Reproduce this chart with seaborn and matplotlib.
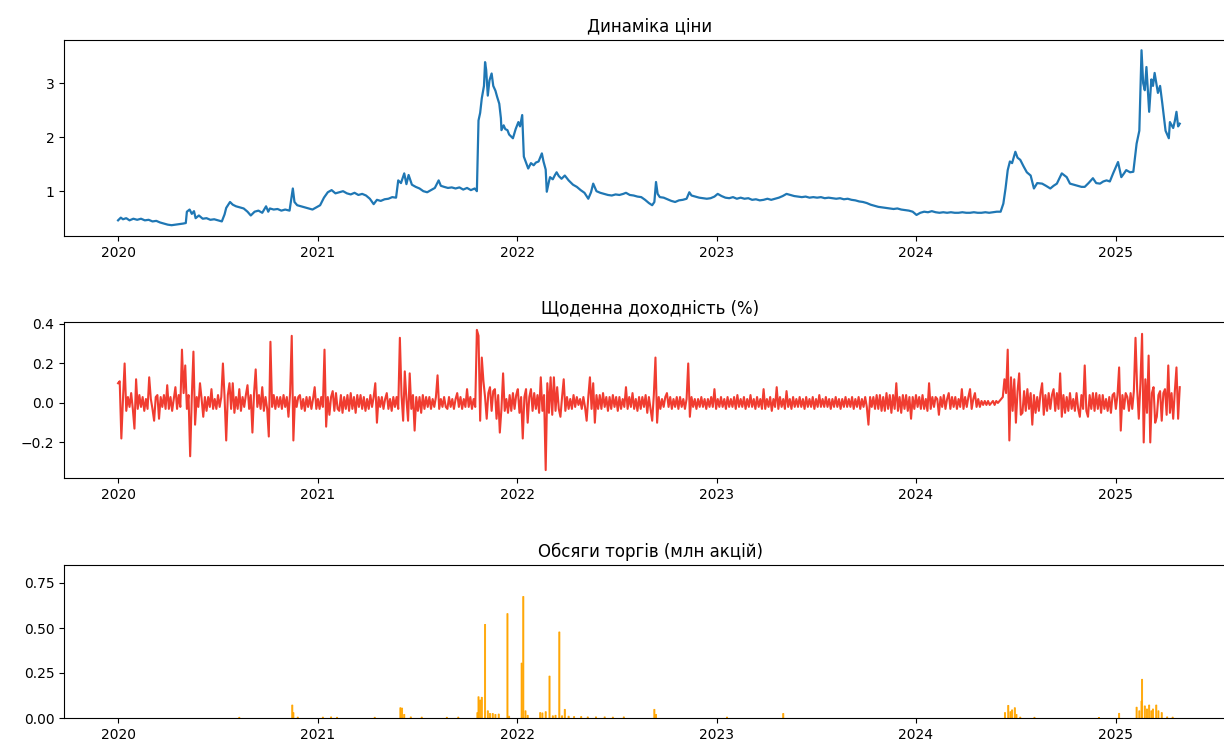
import matplotlib
matplotlib.use("Agg")
import matplotlib.pyplot as plt
import matplotlib.dates as mdates
import numpy as np
import pandas as pd
import seaborn as sns

# ---------------- data ----------------
price_dates = [
    "2020-01-01", "2020-01-06", "2020-01-10", "2020-01-16", "2020-01-22", "2020-01-29",
    "2020-02-05", "2020-02-12", "2020-02-19", "2020-02-26", "2020-03-04", "2020-03-11",
    "2020-03-18", "2020-03-25", "2020-04-01", "2020-04-08", "2020-04-15", "2020-04-22",
    "2020-04-29", "2020-05-04", "2020-05-06", "2020-05-11", "2020-05-15", "2020-05-19",
    "2020-05-22", "2020-05-28", "2020-06-04", "2020-06-11", "2020-06-18", "2020-06-25",
    "2020-07-02", "2020-07-09", "2020-07-14", "2020-07-17", "2020-07-24", "2020-07-29",
    "2020-08-04", "2020-08-11", "2020-08-18", "2020-08-25", "2020-08-31", "2020-09-07",
    "2020-09-14", "2020-09-21", "2020-09-28", "2020-10-02", "2020-10-05", "2020-10-12",
    "2020-10-19", "2020-10-26", "2020-11-02", "2020-11-10", "2020-11-16", "2020-11-19",
    "2020-11-24", "2020-12-01", "2020-12-08", "2020-12-15", "2020-12-22", "2020-12-29",
    "2021-01-05", "2021-01-12", "2021-01-19", "2021-01-26", "2021-02-02", "2021-02-09",
    "2021-02-16", "2021-02-23", "2021-03-02", "2021-03-09", "2021-03-16", "2021-03-23",
    "2021-03-30", "2021-04-06", "2021-04-13", "2021-04-19", "2021-04-26", "2021-05-03",
    "2021-05-10", "2021-05-17", "2021-05-24", "2021-05-28", "2021-06-02", "2021-06-08",
    "2021-06-12", "2021-06-16", "2021-06-22", "2021-06-29", "2021-07-06", "2021-07-13",
    "2021-07-20", "2021-07-27", "2021-08-03", "2021-08-10", "2021-08-14", "2021-08-20",
    "2021-08-27", "2021-09-03", "2021-09-10", "2021-09-17", "2021-09-24", "2021-10-01",
    "2021-10-08", "2021-10-15", "2021-10-19", "2021-10-22", "2021-10-25", "2021-10-28",
    "2021-11-01", "2021-11-03", "2021-11-05", "2021-11-08", "2021-11-11", "2021-11-15",
    "2021-11-18", "2021-11-22", "2021-11-25", "2021-11-29", "2021-12-02", "2021-12-03",
    "2021-12-07", "2021-12-10", "2021-12-14", "2021-12-17", "2021-12-24", "2021-12-29",
    "2022-01-03", "2022-01-06", "2022-01-10", "2022-01-13", "2022-01-18", "2022-01-21",
    "2022-01-26", "2022-01-31", "2022-02-04", "2022-02-09", "2022-02-15", "2022-02-18",
    "2022-02-22", "2022-02-24", "2022-02-28", "2022-03-02", "2022-03-07", "2022-03-11",
    "2022-03-14", "2022-03-18", "2022-03-23", "2022-03-29", "2022-04-05", "2022-04-13",
    "2022-04-20", "2022-04-27", "2022-05-04", "2022-05-11", "2022-05-16", "2022-05-20",
    "2022-05-26", "2022-06-02", "2022-06-09", "2022-06-16", "2022-06-23", "2022-06-30",
    "2022-07-07", "2022-07-14", "2022-07-19", "2022-07-26", "2022-08-02", "2022-08-09",
    "2022-08-16", "2022-08-23", "2022-08-30", "2022-09-05", "2022-09-09", "2022-09-12",
    "2022-09-15", "2022-09-19", "2022-09-26", "2022-10-03", "2022-10-10", "2022-10-17",
    "2022-10-24", "2022-10-31", "2022-11-07", "2022-11-12", "2022-11-16", "2022-11-23",
    "2022-11-30", "2022-12-07", "2022-12-14", "2022-12-21", "2022-12-28", "2023-01-03",
    "2023-01-10", "2023-01-17", "2023-01-24", "2023-01-31", "2023-02-07", "2023-02-14",
    "2023-02-21", "2023-02-28", "2023-03-07", "2023-03-14", "2023-03-21", "2023-03-28",
    "2023-04-04", "2023-04-11", "2023-04-18", "2023-04-25", "2023-05-02", "2023-05-09",
    "2023-05-16", "2023-05-23", "2023-05-30", "2023-06-06", "2023-06-13", "2023-06-20",
    "2023-06-27", "2023-07-04", "2023-07-11", "2023-07-18", "2023-07-25", "2023-08-01",
    "2023-08-08", "2023-08-15", "2023-08-22", "2023-08-29", "2023-09-05", "2023-09-12",
    "2023-09-19", "2023-09-26", "2023-10-03", "2023-10-10", "2023-10-17", "2023-10-24",
    "2023-10-31", "2023-11-07", "2023-11-14", "2023-11-21", "2023-11-28", "2023-12-05",
    "2023-12-12", "2023-12-19", "2023-12-26", "2024-01-02", "2024-01-09", "2024-01-16",
    "2024-01-23", "2024-01-30", "2024-02-06", "2024-02-13", "2024-02-20", "2024-02-27",
    "2024-03-05", "2024-03-12", "2024-03-19", "2024-03-26", "2024-04-02", "2024-04-09",
    "2024-04-16", "2024-04-23", "2024-04-30", "2024-05-07", "2024-05-14", "2024-05-21",
    "2024-05-28", "2024-06-04", "2024-06-09", "2024-06-13", "2024-06-17", "2024-06-21",
    "2024-06-25", "2024-07-01", "2024-07-05", "2024-07-10", "2024-07-16", "2024-07-22",
    "2024-07-29", "2024-08-04", "2024-08-10", "2024-08-19", "2024-08-26", "2024-09-03",
    "2024-09-09", "2024-09-15", "2024-09-24", "2024-10-03", "2024-10-09", "2024-10-16",
    "2024-10-23", "2024-10-30", "2024-11-05", "2024-11-12", "2024-11-20", "2024-11-26",
    "2024-12-03", "2024-12-09", "2024-12-15", "2024-12-21", "2024-12-27", "2025-01-05",
    "2025-01-11", "2025-01-16", "2025-01-20", "2025-01-27", "2025-02-02", "2025-02-08",
    "2025-02-13", "2025-02-17", "2025-02-20", "2025-02-23", "2025-02-26", "2025-03-03",
    "2025-03-07", "2025-03-10", "2025-03-13", "2025-03-19", "2025-03-23", "2025-03-27",
    "2025-04-02", "2025-04-05", "2025-04-08", "2025-04-10", "2025-04-16", "2025-04-19",
    "2025-04-22", "2025-04-25", "2025-04-28",
]
price_values = [
    0.46, 0.51, 0.48, 0.50, 0.46, 0.49,
    0.47, 0.49, 0.46, 0.47, 0.44, 0.45,
    0.42, 0.40, 0.38, 0.37, 0.38, 0.39,
    0.40, 0.41, 0.62, 0.66, 0.58, 0.63,
    0.50, 0.55, 0.49, 0.50, 0.47, 0.48,
    0.46, 0.44, 0.57, 0.69, 0.80, 0.75,
    0.72, 0.70, 0.68, 0.62, 0.55, 0.62,
    0.64, 0.60, 0.72, 0.62, 0.68, 0.66,
    0.67, 0.64, 0.66, 0.64, 1.05, 0.80,
    0.74, 0.72, 0.70, 0.68, 0.66, 0.70,
    0.74, 0.88, 0.98, 1.02, 0.96, 0.98,
    1.00, 0.96, 0.94, 0.97, 0.93, 0.95,
    0.92, 0.86, 0.76, 0.84, 0.82, 0.85,
    0.86, 0.89, 0.88, 1.20, 1.15, 1.33,
    1.13, 1.30, 1.12, 1.08, 1.05, 1.00,
    0.98, 1.02, 1.06, 1.20, 1.10, 1.08,
    1.06, 1.07, 1.05, 1.07, 1.03, 1.06,
    1.02, 1.05, 1.00, 2.31, 2.45, 2.72,
    2.95, 3.39, 3.25, 2.77, 3.05, 3.18,
    2.95, 2.86, 2.75, 2.62, 2.35, 2.13,
    2.22, 2.15, 2.13, 2.05, 1.98, 2.15,
    2.28, 2.20, 2.41, 1.64, 1.50, 1.42,
    1.52, 1.48, 1.53, 1.55, 1.70, 1.55,
    1.40, 0.99, 1.18, 1.26, 1.22, 1.30,
    1.35, 1.28, 1.23, 1.29, 1.20, 1.12,
    1.08, 1.02, 0.97, 0.86, 0.98, 1.14,
    1.00, 0.97, 0.95, 0.93, 0.92, 0.94,
    0.93, 0.95, 0.97, 0.93, 0.92, 0.90,
    0.89, 0.84, 0.78, 0.74, 0.80, 1.17,
    0.95, 0.89, 0.88, 0.85, 0.82, 0.80,
    0.83, 0.84, 0.86, 0.98, 0.92, 0.90,
    0.88, 0.87, 0.86, 0.87, 0.90, 0.95,
    0.91, 0.88, 0.87, 0.89, 0.86, 0.88,
    0.86, 0.87, 0.84, 0.85, 0.83, 0.84,
    0.86, 0.84, 0.86, 0.88, 0.91, 0.95,
    0.93, 0.91, 0.90, 0.89, 0.90, 0.88,
    0.89, 0.88, 0.89, 0.87, 0.88, 0.87,
    0.86, 0.87, 0.85, 0.86, 0.84, 0.83,
    0.81, 0.80, 0.78, 0.75, 0.73, 0.71,
    0.70, 0.69, 0.68, 0.67, 0.68, 0.66,
    0.65, 0.64, 0.62, 0.56, 0.60, 0.62,
    0.61, 0.63, 0.61, 0.60, 0.61, 0.60,
    0.61, 0.60, 0.60, 0.61, 0.60, 0.60,
    0.61, 0.60, 0.60, 0.61, 0.60, 0.61,
    0.62, 0.62, 0.77, 1.05, 1.39, 1.55,
    1.52, 1.73, 1.62, 1.58, 1.46, 1.35,
    1.29, 1.05, 1.15, 1.14, 1.10, 1.05,
    1.10, 1.14, 1.33, 1.26, 1.14, 1.12,
    1.10, 1.08, 1.08, 1.15, 1.24, 1.15,
    1.14, 1.18, 1.20, 1.18, 1.33, 1.54,
    1.26, 1.33, 1.39, 1.35, 1.36, 1.88,
    2.12, 3.61, 3.00, 2.87, 3.30, 2.47,
    3.07, 2.95, 3.19, 2.82, 2.95, 2.63,
    2.12, 2.05, 1.98, 2.28, 2.17, 2.30,
    2.47, 2.20, 2.25,
]

# daily return readings, one value every 3 days starting 2020-01-01
return_start = "2020-01-01"
return_values = [
    0.10, 0.11, -0.18, 0.02, 0.20, -0.04, 0.03, -0.02, 0.05, -0.03,
    -0.13, 0.12, -0.03, 0.04, -0.02, 0.03, -0.04, 0.02, -0.03, 0.13,
    0.02, -0.03, -0.09, 0.03, 0.04, -0.08, 0.03, -0.02, 0.04, -0.03,
    0.09, -0.03, 0.03, -0.04, 0.02, 0.08, -0.03, 0.04, -0.02, 0.27,
    0.05, 0.19, -0.03, 0.04, -0.27, 0.03, 0.26, -0.11, 0.03, -0.02,
    0.10, 0.02, -0.07, 0.03, -0.04, 0.03, -0.02, 0.07, -0.03, 0.02,
    -0.03, 0.04, -0.02, 0.03, 0.20, 0.03, -0.19, 0.04, 0.10, -0.03,
    0.10, -0.05, 0.03, -0.03, 0.07, -0.04, 0.03, -0.02, 0.04, 0.09,
    -0.03, 0.04, -0.15, 0.05, 0.17, -0.02, 0.04, -0.03, 0.08, -0.04,
    0.03, -0.03, -0.17, 0.31, -0.02, 0.04, -0.03, 0.03, -0.02, 0.03,
    -0.03, 0.04, -0.02, 0.03, -0.07, 0.05, 0.34, -0.19, 0.03, -0.02,
    0.03, 0.04, -0.03, 0.02, -0.04, 0.03, -0.02, 0.03, -0.03, 0.02,
    0.08, -0.03, 0.02, -0.03, 0.03, -0.02, 0.27, -0.12, 0.03, -0.06,
    0.03, 0.06, -0.04, 0.05, -0.03, -0.04, 0.04, -0.05, 0.03, -0.03,
    0.04, -0.04, 0.05, -0.03, 0.03, -0.05, 0.04, -0.02, 0.04, -0.03,
    0.03, -0.04, 0.02, -0.03, 0.04, -0.02, 0.03, 0.10, -0.10, 0.03,
    -0.02, 0.03, -0.03, 0.02, 0.05, -0.03, 0.02, -0.04, 0.03, -0.02,
    0.03, -0.03, 0.33, 0.04, -0.09, 0.16, 0.02, -0.09, 0.15, -0.03,
    0.04, -0.14, 0.03, -0.04, 0.03, -0.05, 0.04, -0.03, 0.03, -0.02,
    0.03, -0.03, 0.02, -0.02, 0.03, 0.14, -0.03, 0.02, -0.02, 0.03,
    -0.02, -0.03, 0.03, -0.02, 0.02, -0.03, 0.02, 0.05, -0.02, 0.03,
    -0.03, 0.02, -0.02, 0.07, -0.02, 0.03, -0.03, 0.02, -0.02, 0.37,
    0.34, -0.09, 0.23, 0.11, 0.03, -0.08, 0.05, 0.08, -0.04, 0.06,
    0.07, -0.08, 0.04, -0.15, -0.03, 0.15, -0.04, 0.02, -0.05, 0.04,
    -0.04, 0.05, -0.03, 0.04, 0.07, -0.05, 0.03, -0.18, 0.03, 0.07,
    -0.10, 0.03, 0.07, -0.04, 0.05, -0.03, 0.04, -0.05, 0.13, -0.04,
    0.04, -0.34, 0.10, -0.05, 0.13, -0.06, 0.13, -0.04, 0.08, -0.03,
    -0.07, 0.03, 0.12, -0.04, 0.03, -0.03, 0.02, -0.03, 0.04, -0.02,
    0.03, -0.01, 0.02, -0.03, 0.03, -0.02, -0.09, 0.03, 0.13, -0.03,
    0.10, -0.10, 0.04, -0.03, 0.04, -0.03, 0.05, -0.02, 0.03, -0.04,
    0.03, -0.03, 0.04, -0.02, 0.03, -0.04, 0.03, -0.03, 0.02, -0.02,
    0.08, -0.03, 0.03, -0.02, 0.05, -0.03, 0.02, -0.04, 0.03, -0.03,
    0.03, -0.02, 0.04, -0.05, 0.03, -0.03, -0.09, 0.04, 0.23, -0.10,
    0.03, -0.03, 0.02, -0.02, 0.03, 0.05, -0.02, 0.03, -0.03, 0.02,
    -0.02, 0.03, -0.03, 0.03, -0.02, 0.02, -0.03, 0.02, 0.20, -0.07,
    0.03, -0.02, 0.02, -0.03, 0.02, -0.02, 0.03, -0.02, 0.02, -0.03,
    0.02, -0.02, 0.03, -0.02, 0.07, -0.03, 0.02, -0.02, 0.03, -0.02,
    0.02, -0.03, 0.03, -0.02, 0.02, -0.02, 0.03, -0.03, 0.04, -0.02,
    0.02, -0.02, 0.03, -0.03, 0.02, -0.02, 0.04, -0.02, 0.02, -0.03,
    0.03, -0.02, 0.02, -0.03, 0.07, -0.03, 0.02, -0.02, 0.03, -0.04,
    0.02, -0.02, 0.08, -0.03, 0.03, -0.02, 0.02, -0.03, 0.06, -0.02,
    0.02, -0.03, 0.03, -0.02, 0.02, -0.02, 0.03, -0.02, 0.02, -0.03,
    0.03, -0.02, 0.02, -0.02, 0.03, -0.03, 0.02, -0.02, 0.04, -0.02,
    0.02, -0.02, 0.03, -0.02, 0.02, -0.03, 0.02, -0.02, 0.03, -0.02,
    0.02, -0.03, 0.02, -0.02, 0.03, -0.02, 0.02, -0.02, 0.03, -0.03,
    0.02, -0.02, 0.03, -0.03, 0.02, -0.02, 0.03, -0.02, -0.11, 0.03,
    -0.02, 0.03, -0.03, 0.04, -0.03, 0.04, -0.04, 0.03, -0.04, 0.05,
    -0.03, 0.04, -0.05, 0.04, -0.03, 0.10, -0.04, 0.03, -0.05, 0.04,
    -0.03, 0.04, -0.04, 0.03, -0.08, 0.03, -0.03, 0.04, -0.02, 0.03,
    -0.03, 0.04, -0.03, 0.02, -0.04, 0.10, -0.03, 0.03, -0.02, 0.03,
    0.02, -0.06, 0.03, -0.02, 0.04, -0.03, 0.02, 0.05, -0.03, 0.03,
    -0.02, 0.03, -0.03, 0.02, -0.02, 0.07, -0.03, 0.03, -0.02, 0.03,
    0.07, -0.03, 0.02, 0.05, -0.02, 0.02, -0.02, 0.01, -0.01, 0.01,
    -0.01, 0.01, -0.01, 0.00, 0.01, -0.01, 0.01, 0.00, 0.01, 0.02,
    0.03, 0.12, 0.05, 0.27, -0.19, 0.13, -0.04, 0.12, -0.10, 0.06,
    0.15, -0.06, -0.05, 0.06, -0.04, 0.07, -0.03, 0.05, -0.11, 0.04,
    -0.05, 0.03, -0.04, 0.05, 0.10, -0.06, 0.04, -0.04, 0.05, -0.03,
    0.04, 0.07, -0.04, 0.05, -0.03, 0.15, -0.07, 0.04, -0.05, 0.03,
    -0.04, 0.05, -0.03, 0.02, -0.04, 0.05, -0.03, -0.07, 0.04, -0.03,
    0.19, -0.04, -0.07, 0.04, -0.03, 0.05, -0.04, 0.05, -0.03, 0.04,
    -0.05, 0.04, -0.03, 0.02, -0.04, 0.03, -0.05, 0.04, 0.05, -0.03,
    0.04, 0.18, -0.14, 0.04, -0.03, 0.05, 0.03, -0.04, 0.05, -0.03,
    0.06, 0.33, 0.07, -0.08, 0.10, 0.35, -0.20, 0.12, -0.05, 0.24,
    -0.20, 0.05, 0.08, -0.10, -0.07, 0.04, 0.06, -0.09, 0.05, 0.07,
    -0.06, 0.19, -0.05, 0.05, -0.08, 0.06, 0.18, -0.08, 0.08,
]

volume_dates = [
    "2020-08-10", "2020-11-15", "2020-11-17", "2020-11-25", "2021-01-10", "2021-01-25",
    "2021-02-05", "2021-04-15", "2021-06-01", "2021-06-04", "2021-06-08", "2021-06-20",
    "2021-07-10", "2021-08-25", "2021-09-15", "2021-10-20", "2021-10-22", "2021-10-25",
    "2021-10-28", "2021-11-03", "2021-11-08", "2021-11-12", "2021-11-17", "2021-11-22",
    "2021-11-28", "2021-12-14", "2021-12-17", "2022-01-09", "2022-01-12", "2022-01-16",
    "2022-01-20", "2022-02-12", "2022-02-16", "2022-02-22", "2022-03-01", "2022-03-07",
    "2022-03-12", "2022-03-19", "2022-03-24", "2022-03-29", "2022-04-05", "2022-04-15",
    "2022-04-28", "2022-05-10", "2022-05-25", "2022-06-10", "2022-06-25", "2022-07-15",
    "2022-09-09", "2022-09-12", "2023-01-20", "2023-05-03", "2024-06-12", "2024-06-18",
    "2024-06-22", "2024-06-25", "2024-06-30", "2024-07-03", "2024-07-10", "2024-08-05",
    "2024-12-01", "2025-01-07", "2025-02-08", "2025-02-13", "2025-02-17", "2025-02-18",
    "2025-02-23", "2025-02-27", "2025-03-03", "2025-03-07", "2025-03-10", "2025-03-16",
    "2025-03-20", "2025-03-26", "2025-04-05", "2025-04-15",
]
volume_values = [
    0.004, 0.072, 0.030, 0.005, 0.005, 0.006,
    0.004, 0.004, 0.057, 0.055, 0.020, 0.006,
    0.005, 0.004, 0.005, 0.030, 0.118, 0.100,
    0.115, 0.520, 0.040, 0.025, 0.025, 0.020,
    0.022, 0.580, 0.010, 0.305, 0.675, 0.040,
    0.015, 0.030, 0.028, 0.035, 0.233, 0.012,
    0.015, 0.478, 0.012, 0.048, 0.010, 0.008,
    0.008, 0.006, 0.006, 0.006, 0.005, 0.006,
    0.048, 0.020, 0.005, 0.025, 0.030, 0.070,
    0.035, 0.045, 0.057, 0.020, 0.005, 0.004,
    0.003, 0.026, 0.060, 0.040, 0.094, 0.215,
    0.067, 0.050, 0.072, 0.040, 0.050, 0.072,
    0.040, 0.030, 0.006, 0.005,
]

titles = ["Динаміка ціни", "Щоденна доходність (%)", "Обсяги торгів (млн акцій)"]

# ---------------- frames ----------------
price_df = pd.DataFrame({"date": pd.to_datetime(price_dates), "price": price_values})
ret_df = pd.DataFrame({
    "date": pd.date_range(return_start, periods=len(return_values), freq="3D"),
    "ret": return_values,
})
vol_df = pd.DataFrame({"date": pd.to_datetime(volume_dates), "vol": volume_values})

# ---------------- figure ----------------
fig = plt.figure(figsize=(12.24, 7.47), dpi=100)
W, H = 1224.0, 747.0
left = 64 / W
width = (1236 - 64) / W
ax1 = fig.add_axes([left, 1 - 236 / H, width, (236 - 40) / H])
ax2 = fig.add_axes([left, 1 - 478 / H, width, (478 - 322) / H])
ax3 = fig.add_axes([left, 1 - 718 / H, width, (718 - 565) / H])

sns.lineplot(data=price_df, x="date", y="price", ax=ax1, color="#1f77b4", linewidth=1.6)
sns.lineplot(data=ret_df, x="date", y="ret", ax=ax2, color="#f03c30", linewidth=1.5)
bars = ax3.bar(vol_df["date"], vol_df["vol"], width=2.0, color="orange",
               edgecolor="orange", linewidth=0.6)
for b in bars:
    b.set_snap(False)

xmin = pd.Timestamp("2019-09-24")
xmax = pd.Timestamp("2025-08-09")
for ax, title in zip([ax1, ax2, ax3], titles):
    ax.set_xlim(xmin, xmax)
    ax.set_title(title, fontsize=12)
    ax.set_xlabel("")
    ax.set_ylabel("")
    ax.xaxis.set_major_locator(mdates.YearLocator())
    ax.xaxis.set_major_formatter(mdates.DateFormatter("%Y"))
    ax.tick_params(labelsize=10)

ax1.set_ylim(0.17, 3.80)
ax1.set_yticks([1, 2, 3])
ax2.set_ylim(-0.38, 0.41)
ax2.set_yticks([-0.2, 0.0, 0.2, 0.4])
ax3.set_ylim(0, 0.85)
ax3.set_yticks([0.0, 0.25, 0.5, 0.75])

fig.savefig("out.png", dpi=100)
